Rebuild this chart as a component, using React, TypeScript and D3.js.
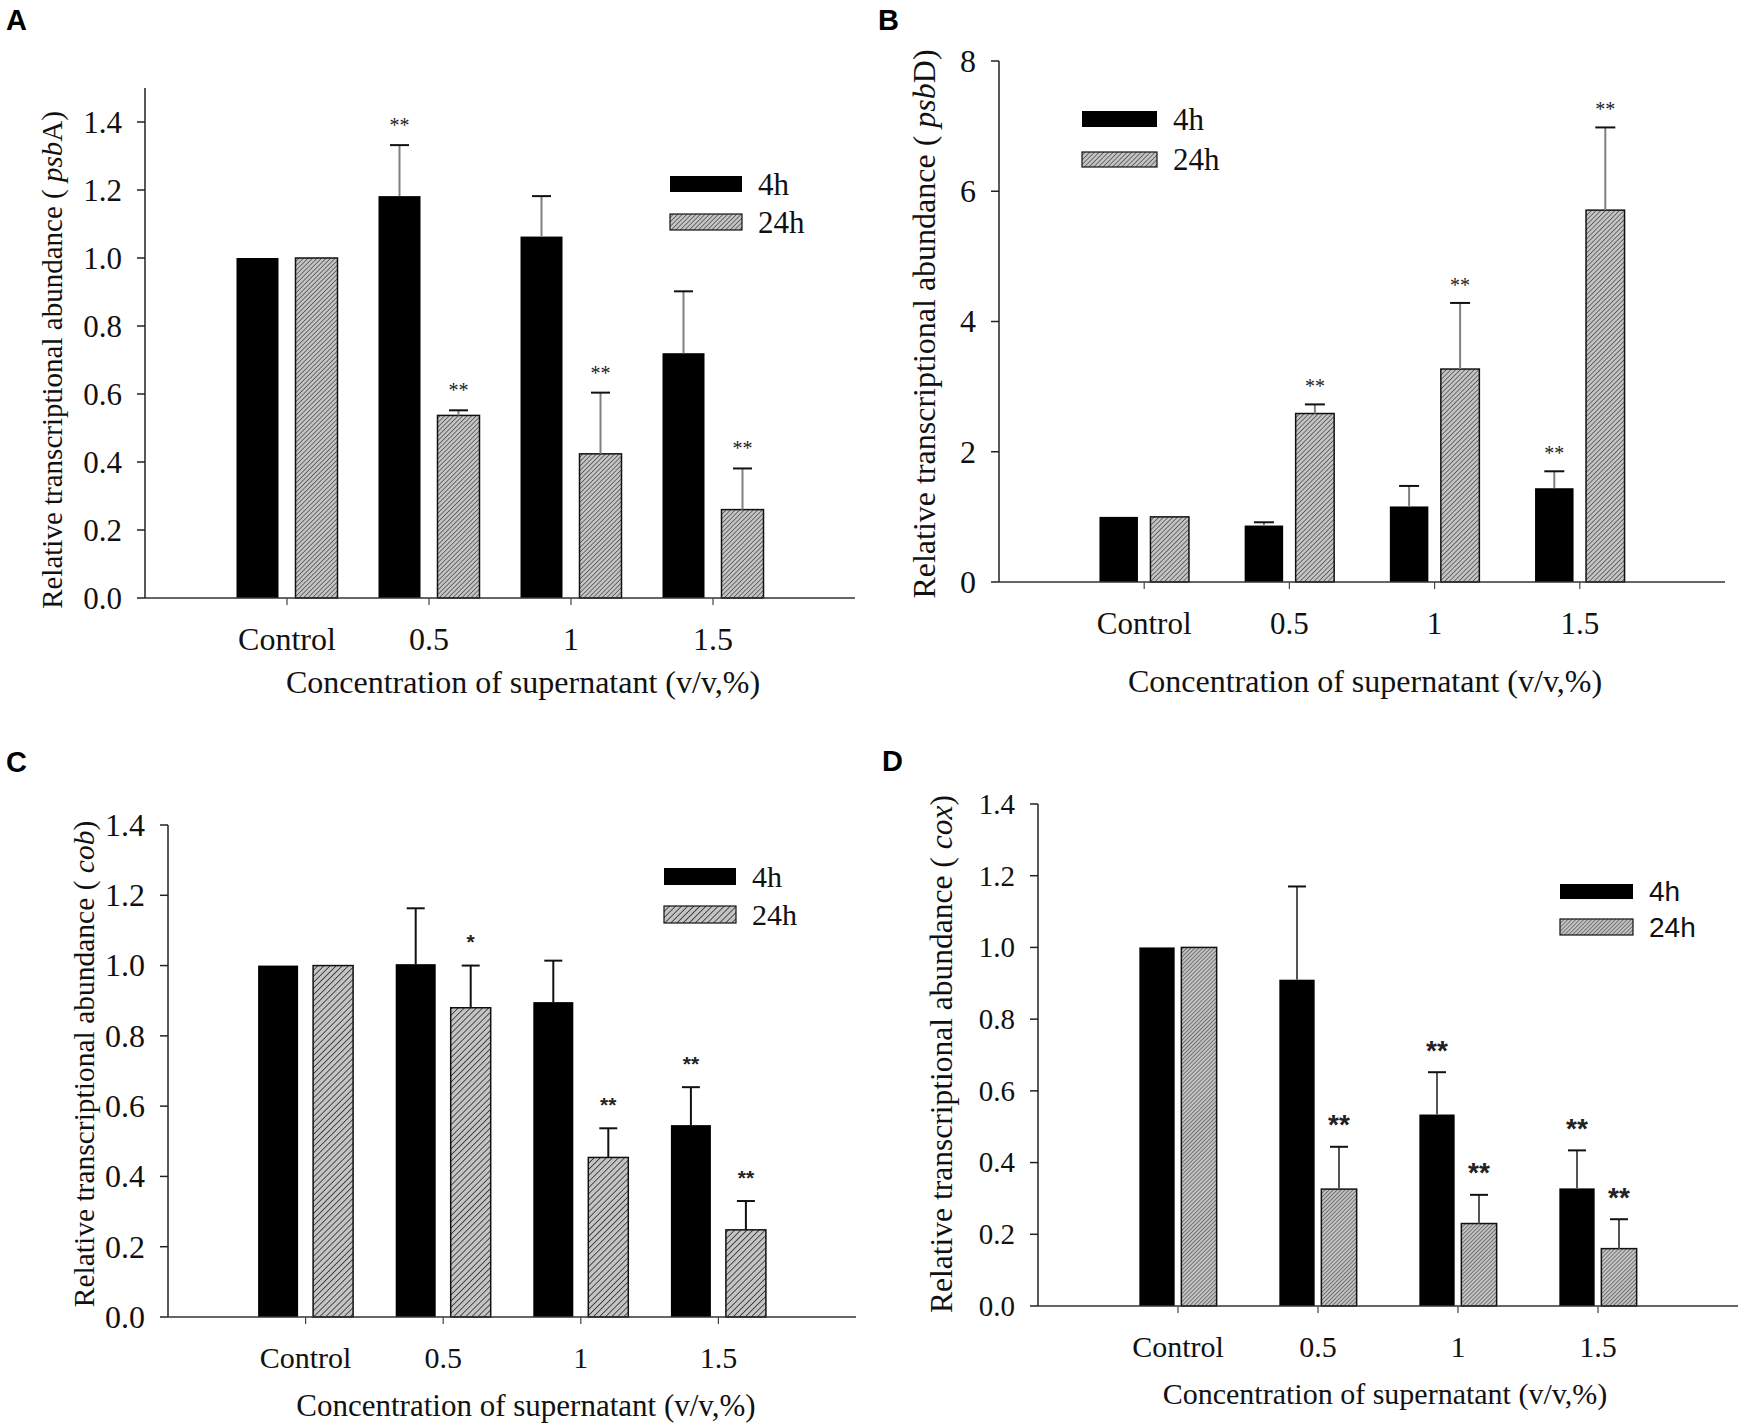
import React from 'react';
import * as d3 from 'd3';

// ---- data ----
const categories = ['Control', '0.5', '1', '1.5'];
const seriesNames = ['4h', '24h'];

const psbA4h = [1.0, 1.182, 1.063, 0.72];
const psbA4hErr = [0, 0.15, 0.119, 0.182];
const psbA24h = [1.0, 0.537, 0.424, 0.26];
const psbA24hErr = [0, 0.015, 0.18, 0.121];
const psbA4hSig = ['', '**', '', ''];
const psbA24hSig = ['', '**', '**', '**'];
const psbATicks = [0, 0.2, 0.4, 0.6, 0.8, 1.0, 1.2, 1.4];

const psbD4h = [1.0, 0.867, 1.16, 1.44];
const psbD4hErr = [0, 0.05, 0.315, 0.26];
const psbD24h = [1.0, 2.587, 3.27, 5.71];
const psbD24hErr = [0, 0.14, 1.015, 1.27];
const psbD4hSig = ['', '', '', '**'];
const psbD24hSig = ['', '**', '**', '**'];
const psbDTicks = [0, 2, 4, 6, 8];

const cob4h = [1.0, 1.004, 0.896, 0.546];
const cob4hErr = [0, 0.159, 0.118, 0.108];
const cob24h = [1.0, 0.88, 0.454, 0.248];
const cob24hErr = [0, 0.12, 0.083, 0.082];
const cob4hSig = ['', '', '', '**'];
const cob24hSig = ['', '*', '**', '**'];
const cobTicks = [0, 0.2, 0.4, 0.6, 0.8, 1.0, 1.2, 1.4];

const cox4h = [1.0, 0.91, 0.534, 0.328];
const cox4hErr = [0, 0.26, 0.118, 0.106];
const cox24h = [1.0, 0.326, 0.23, 0.16];
const cox24hErr = [0, 0.118, 0.08, 0.082];
const cox4hSig = ['', '', '**', '**'];
const cox24hSig = ['', '**', '**', '**'];
const coxTicks = [0, 0.2, 0.4, 0.6, 0.8, 1.0, 1.2, 1.4];

const SERIF = "'Liberation Serif', 'Times New Roman', serif";
const SANS = "'Liberation Sans', Arial, sans-serif";

const panels = [
  {
    id: 'A', letter: [6, 30], gene: ['psb', 'A'],
    v4: psbA4h, e4: psbA4hErr, s4: psbA4hSig, v24: psbA24h, e24: psbA24hErr, s24: psbA24hSig,
    ticks: psbATicks, fmt: '.1f', yMax: 1.5,
    x0: 145, x1: 855, y0: 598, yTop: 88,
    tickFs: 31, barW: 42, barOff: 29.5, capW: 19, catY: 650, catFs: 32,
    xTitle: [523, 693, 32], yTitle: [62, 360, 29],
    legend: { x: 670, w: 72, y1: 176, h1: 16, y2: 214, h2: 16, tx: 758, fs: 31, font: SERIF },
    star: { fs: 20, font: SERIF, gap: 24, weight: 'normal' },
    stem: '#808080', hatchGap: 3.2, hatchW: 1.1,
  },
  {
    id: 'B', letter: [878, 30], gene: ['psb', 'D'],
    v4: psbD4h, e4: psbD4hErr, s4: psbD4hSig, v24: psbD24h, e24: psbD24hErr, s24: psbD24hSig,
    ticks: psbDTicks, fmt: 'd', yMax: 8,
    x0: 999, x1: 1725, y0: 582, yTop: 61,
    tickFs: 32, barW: 38.5, barOff: 25.5, capW: 20, catY: 634, catFs: 31,
    xTitle: [1365, 692, 32], yTitle: [935, 324, 32],
    legend: { x: 1082, w: 75, y1: 111, h1: 16, y2: 152, h2: 15, tx: 1173, fs: 31, font: SERIF },
    star: { fs: 20, font: SERIF, gap: 22, weight: 'normal' },
    stem: '#808080', hatchGap: 3.3, hatchW: 1.1,
  },
  {
    id: 'C', letter: [6, 772], gene: ['cob', ''],
    v4: cob4h, e4: cob4hErr, s4: cob4hSig, v24: cob24h, e24: cob24hErr, s24: cob24hSig,
    ticks: cobTicks, fmt: '.1f', yMax: 1.4,
    x0: 168, x1: 856, y0: 1317, yTop: 825,
    tickFs: 32, barW: 40, barOff: 27.5, capW: 18, catY: 1368, catFs: 30,
    xTitle: [526, 1416, 31], yTitle: [94, 1064, 29.5],
    legend: { x: 664, w: 72, y1: 868, h1: 17, y2: 906, h2: 17, tx: 752, fs: 30, font: SERIF },
    star: { fs: 21, font: SANS, gap: 28, weight: 'bold' },
    stem: '#111', hatchGap: 4.3, hatchW: 1.5,
  },
  {
    id: 'D', letter: [882, 771], gene: ['cox', ''],
    v4: cox4h, e4: cox4hErr, s4: cox4hSig, v24: cox24h, e24: cox24hErr, s24: cox24hSig,
    ticks: coxTicks, fmt: '.1f', yMax: 1.4,
    x0: 1038, x1: 1738, y0: 1306, yTop: 804,
    tickFs: 29, barW: 35.3, barOff: 21, capW: 18, catY: 1357, catFs: 30,
    xTitle: [1385, 1404, 30], yTitle: [952, 1054, 31.5],
    legend: { x: 1560, w: 73, y1: 884, h1: 15, y2: 919, h2: 16, tx: 1649, fs: 28, font: SANS },
    star: { fs: 28, font: SANS, gap: 28, weight: 'bold' },
    stem: '#555', hatchGap: 2.8, hatchW: 1.0,
  },
];

type P = typeof panels[number];

const Panel: React.FC<{ p: P }> = ({ p }) => {
  const x = d3.scaleLinear().domain([0, categories.length + 1]).range([p.x0, p.x1]);
  const y = d3.scaleLinear().domain([0, p.yMax]).range([p.y0, p.yTop]);
  const fmt = d3.format(p.fmt);
  const hatch = `url(#hatch${p.id})`;
  const series = [
    { vals: p.v4, errs: p.e4, sig: p.s4, dx: -p.barOff, fill: '#000', stroke: 'none' },
    { vals: p.v24, errs: p.e24, sig: p.s24, dx: p.barOff, fill: hatch, stroke: '#111' },
  ];
  return (
    <g>
      <defs>
        <pattern id={`hatch${p.id}`} patternUnits="userSpaceOnUse" width={p.hatchGap} height={p.hatchGap}
          patternTransform="rotate(45)">
          <rect width={p.hatchGap} height={p.hatchGap} fill="#c4c4c4" />
          <line x1={0} y1={0} x2={0} y2={p.hatchGap} stroke="#222" strokeWidth={p.hatchW} />
        </pattern>
      </defs>
      <text x={p.letter[0]} y={p.letter[1]} fontFamily={SANS} fontWeight="bold" fontSize={29}>{p.id}</text>

      {/* bars */}
      {series.map((s, si) => s.vals.map((v, i) => {
        const cx = x(i + 1) + s.dx;
        return (
          <rect key={`b${si}${i}`} x={cx - p.barW / 2} y={y(v)} width={p.barW} height={p.y0 - y(v)}
            fill={s.fill} stroke={s.stroke} strokeWidth={1.5} />
        );
      }))}

      {/* error bars and stars */}
      {series.map((s, si) => s.vals.map((v, i) => {
        const cx = x(i + 1) + s.dx;
        const e = s.errs[i];
        const top = y(v + e);
        return (
          <g key={`e${si}${i}`}>
            {e > 0 && <line x1={cx} x2={cx} y1={y(v)} y2={top} stroke={p.stem} strokeWidth={2} />}
            {e > 0 && <line x1={cx - p.capW / 2} x2={cx + p.capW / 2} y1={top} y2={top} stroke="#111" strokeWidth={2} />}
            {s.sig[i] && (
              <text x={cx} y={top - p.star.gap + 0.55 * p.star.fs} textAnchor="middle" fontFamily={p.star.font}
                fontWeight={p.star.weight} fontSize={p.star.fs} fill="#222">{s.sig[i]}</text>
            )}
          </g>
        );
      }))}

      {/* axes */}
      <line x1={p.x0} x2={p.x0} y1={y(p.yMax)} y2={p.y0} stroke="#222" strokeWidth={1.5} />
      <line x1={p.x0} x2={p.x1} y1={p.y0} y2={p.y0} stroke="#333" strokeWidth={1.5} />
      {p.ticks.map(t => (
        <g key={`t${t}`}>
          <line x1={p.x0 - 8} x2={p.x0} y1={y(t)} y2={y(t)} stroke="#222" strokeWidth={1.5} />
          <text x={p.x0 - 23} y={y(t) + 0.34 * p.tickFs} textAnchor="end" fontFamily={SERIF}
            fontSize={p.tickFs} fill="#111">{fmt(t)}</text>
        </g>
      ))}
      {categories.map((c, i) => (
        <g key={c}>
          <line x1={x(i + 1)} x2={x(i + 1)} y1={p.y0} y2={p.y0 + 7} stroke="#444" strokeWidth={1.2} />
          <text x={x(i + 1)} y={p.catY} textAnchor="middle" fontFamily={SERIF} fontSize={p.catFs} fill="#111">{c}</text>
        </g>
      ))}

      {/* titles */}
      <text x={p.xTitle[0]} y={p.xTitle[1]} textAnchor="middle" fontFamily={SERIF} fontSize={p.xTitle[2]} fill="#111">
        Concentration of supernatant (v/v,%)
      </text>
      <text transform={`translate(${p.yTitle[0]},${p.yTitle[1]}) rotate(-90)`} textAnchor="middle"
        fontFamily={SERIF} fontSize={p.yTitle[2]} fill="#111">
        Relative transcriptional abundance ( <tspan fontStyle="italic">{p.gene[0]}</tspan>{p.gene[1]})
      </text>

      {/* legend */}
      <rect x={p.legend.x} y={p.legend.y1} width={p.legend.w} height={p.legend.h1} fill="#000" />
      <rect x={p.legend.x} y={p.legend.y2} width={p.legend.w} height={p.legend.h2} fill={hatch} stroke="#111" strokeWidth={1.2} />
      <text x={p.legend.tx} y={p.legend.y1 + p.legend.h1 / 2 + 0.34 * p.legend.fs} fontFamily={p.legend.font}
        fontSize={p.legend.fs} fill="#111">{seriesNames[0]}</text>
      <text x={p.legend.tx} y={p.legend.y2 + p.legend.h2 / 2 + 0.34 * p.legend.fs} fontFamily={p.legend.font}
        fontSize={p.legend.fs} fill="#111">{seriesNames[1]}</text>
    </g>
  );
};

export default function App() {
  return (
    <div style={{ position: 'absolute', left: 0, top: 0 }}>
      <svg width={1745} height={1428} style={{ display: 'block', background: '#fff' }}>
        <rect width={1745} height={1428} fill="#fff" />
        {panels.map(p => <Panel key={p.id} p={p} />)}
      </svg>
    </div>
  );
}
